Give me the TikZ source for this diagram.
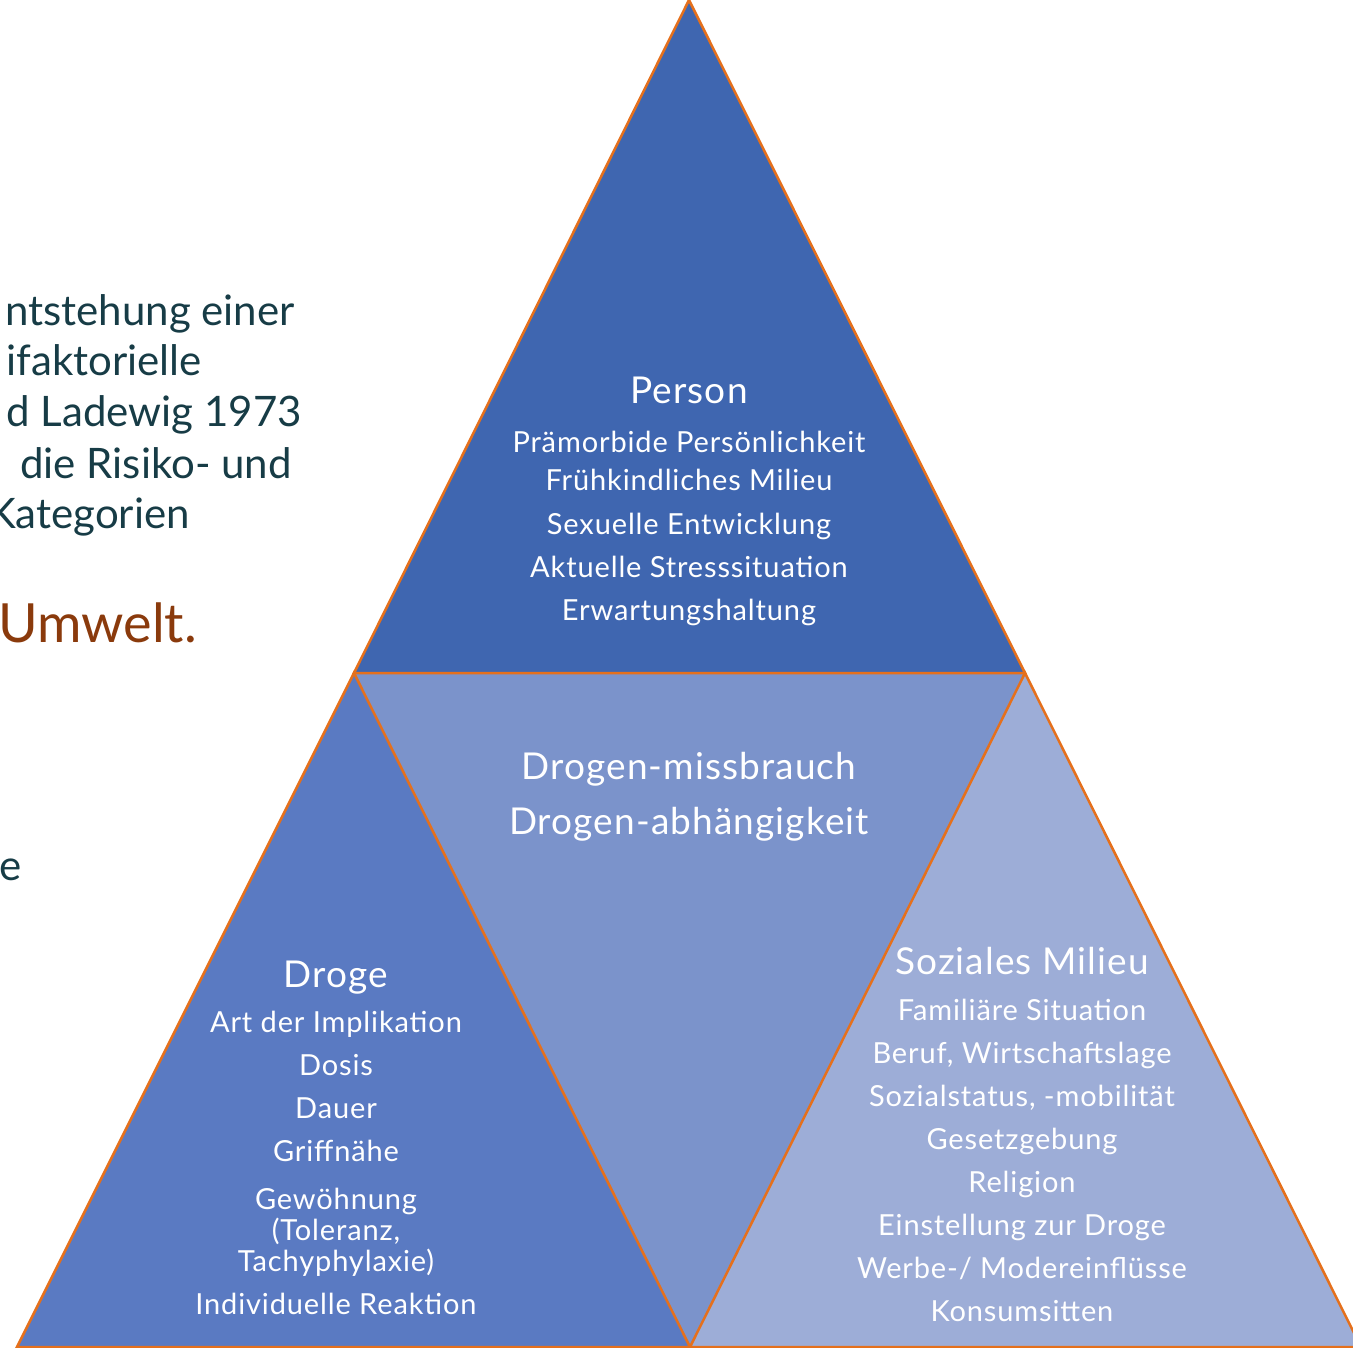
\documentclass[tikz,border=0pt]{standalone}
\usepackage{fontspec}
\setmainfont{Lato}[LetterSpace=3]
\newfontfamily\sidefont{Lato}
\definecolor{cTop}{HTML}{3F66B0}
\definecolor{cLeft}{HTML}{5A7AC2}
\definecolor{cMid}{HTML}{7B93CB}
\definecolor{cRight}{HTML}{9DADD7}
\definecolor{cEdge}{HTML}{E5701C}
\definecolor{cText}{HTML}{173C46}
\definecolor{cBrown}{HTML}{8A3A0C}
\tikzset{
  tri/.style={draw=cEdge, line width=2.5pt, line join=miter},
  head/.style={text=white, font=\fontsize{37}{40}\selectfont, anchor=base, inner sep=0pt},
  item/.style={text=white, font=\fontsize{29}{32}\selectfont, anchor=base, inner sep=0pt},
  side/.style={text=cText, font=\sidefont\fontsize{42}{48}\selectfont, anchor=base east, inner sep=0pt},
}
\begin{document}
\begin{tikzpicture}[x=1pt,y=-1pt]
\useasboundingbox (0,0) rectangle (1353,1348);
\clip (0,0) rectangle (1353,1348);
% vertices
\coordinate (A) at (689,0);
\coordinate (B) at (354,673);
\coordinate (C) at (1025,673);
\coordinate (D) at (17,1347);
\coordinate (E) at (690,1347);
\coordinate (F) at (1361,1347);
% triangles
\fill[cTop] (A) -- (B) -- (C) -- cycle;
\fill[cLeft] (B) -- (D) -- (E) -- cycle;
\fill[cMid] (B) -- (C) -- (E) -- cycle;
\fill[cRight] (C) -- (E) -- (F) -- cycle;
\draw[tri] (A) -- (B) -- (C) -- cycle;
\draw[tri] (B) -- (D) -- (E) -- cycle;
\draw[tri] (C) -- (E) -- (F) -- cycle;
% left text
\node[side] (s1) at (295,326) {ntstehung einer};
\node[side] (s2) at (202,376) {ifaktorielle};
\node[side] (s3) at (302,427) {d Ladewig 1973};
\node[side] (s4) at (292,478) {die Risiko- und};
\node[side] (s5) at (190,528) {Kategorien};
\node[side, text=cBrown, font=\sidefont\fontsize{54}{60}\selectfont] (s6) at (197,642) {Umwelt.};
\node[side] (s7) at (22,880) {e};
% Person
\node[head] (p0) at (689,404) {Person};
\node[item] (p1) at (689,452) {Prämorbide Persönlichkeit};
\node[item] (p2) at (689,490) {Frühkindliches Milieu};
\node[item] (p3) at (689,534) {Sexuelle Entwicklung};
\node[item] (p4) at (689,577) {Aktuelle Stresssituation};
\node[item] (p5) at (689,620) {Erwartungshaltung};
% center
\node[head] (m1) at (689,779) {Drogen-missbrauch};
\node[head] (m2) at (689,834) {Drogen-abhängigkeit};
% Droge
\node[head] (d0) at (336,987) {Droge};
\node[item] (d1) at (336,1032) {Art der Implikation};
\node[item] (d2) at (336,1075) {Dosis};
\node[item] (d3) at (336,1118) {Dauer};
\node[item] (d4) at (336,1161) {Griffnähe};
\node[item] (d5) at (336,1209) {Gewöhnung};
\node[item] (d6) at (336,1240) {(Toleranz,};
\node[item] (d7) at (336,1271) {Tachyphylaxie)};
\node[item] (d8) at (336,1314) {Individuelle Reaktion};
% Soziales Milieu
\node[head] (r0) at (1022,974) {Soziales Milieu};
\node[item] (r1) at (1022,1020) {Familiäre Situation};
\node[item] (r2) at (1022,1063) {Beruf, Wirtschaftslage};
\node[item] (r3) at (1022,1106) {Sozialstatus, -mobilität};
\node[item] (r4) at (1022,1149) {Gesetzgebung};
\node[item] (r5) at (1022,1192) {Religion};
\node[item] (r6) at (1022,1235) {Einstellung zur Droge};
\node[item] (r7) at (1022,1278) {Werbe-/ Modereinflüsse};
\node[item] (r8) at (1022,1321) {Konsumsitten};
\end{tikzpicture}
\end{document}
